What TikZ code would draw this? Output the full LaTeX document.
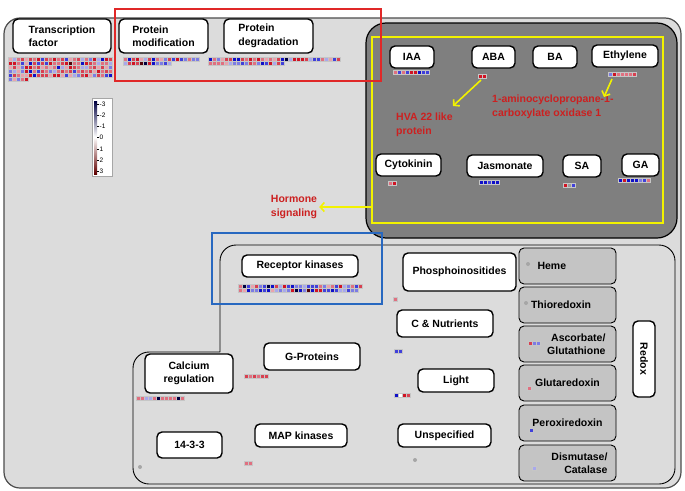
\documentclass[tikz,border=0pt]{standalone}
\usepackage{fontspec}
\setmainfont{Liberation Sans}
\usetikzlibrary{arrows.meta}

\definecolor{hr1}{HTML}{EAA2AC}
\definecolor{hr2}{HTML}{E07080}
\definecolor{hr3}{HTML}{D84050}
\definecolor{hr4}{HTML}{D01424}
\definecolor{hr5}{HTML}{500008}
\definecolor{hr6}{HTML}{600000}
\definecolor{hb1}{HTML}{A8A8EC}
\definecolor{hb2}{HTML}{7C7CE4}
\definecolor{hb3}{HTML}{4040DA}
\definecolor{hb4}{HTML}{1010C8}
\definecolor{hb5}{HTML}{000040}
\definecolor{nodata}{HTML}{9A9A9A}
\definecolor{mapbg}{HTML}{DCDCDC}
\definecolor{panelgray}{HTML}{7F7F7F}
\definecolor{redoxgray}{HTML}{C4C4C4}
\definecolor{hormyel}{HTML}{F2F200}
\definecolor{notered}{HTML}{CC2020}
\definecolor{markred}{HTML}{E02828}
\definecolor{markblue}{HTML}{2868C0}

\newcommand{\lbl}{\bfseries\fontsize{10.5}{13.5}\selectfont}

\tikzset{
  box/.style={draw=black, line width=1.4pt, fill=white, rounded corners=5pt, font=\lbl, inner sep=2pt},
  redoxbox/.style={draw=black, line width=0.9pt, fill=redoxgray, rounded corners=5pt, font=\lbl, minimum width=97, minimum height=36, inner sep=2pt},
  cell/.style={draw=gray!45, line width=0.15pt},
  dot/.style={circle, fill=gray!70, inner sep=0pt, minimum size=4},
  yarrow/.style={draw=hormyel, line width=1.6pt, -{Straight Barb[length=4pt,width=9pt]}},
  note/.style={text=notered, font=\lbl, inner sep=0pt, align=left},
}

% random expression block: x, y, cells, columns, red share of 10, seed
\newcommand{\heatmap}[6]{%
  \pgfmathsetseed{#6}
  \foreach \i in {1,...,#3}{
    \pgfmathtruncatemacro{\hcol}{mod(\i-1,#4)}
    \pgfmathtruncatemacro{\hrow}{div(\i-1,#4)}
    \pgfmathrandominteger{\hq}{1}{10}
    \pgfmathrandominteger{\tn}{1}{20}
    \pgfmathtruncatemacro{\lv}{\tn<5 ? 1 : (\tn<11 ? 2 : (\tn<16 ? 3 : (\tn<20 ? 4 : 5)))}
    \ifnum\hq>#5 \def\hc{hb\lv}\else\def\hc{hr\lv}\fi
    \draw[cell, fill=\hc] (#1+4*\hcol,#2+4*\hrow) rectangle ++(4,4);
  }
}
% one row of given colours: x, y, list
\newcommand{\cells}[3]{%
  \foreach \hc [count=\cn from 0] in {#3}
    \draw[cell, fill=\hc] (#1+4*\cn,#2) rectangle ++(4,4);
}

\begin{document}
\begin{tikzpicture}[x=1pt, y=-1pt]
\useasboundingbox (0,0) rectangle (685,490);
\fill[white] (0,0) rectangle (685,490);

% frames
\draw[draw=black!70, line width=1.2pt, fill=mapbg, rounded corners=16] (4,18) rectangle (681,488);
\draw[line width=0.9pt, fill=mapbg, rounded corners=16] (220,352) -- (220,245) -- (675,245) -- (675,484) -- (133,484) -- (133,352) -- (220,352);
\draw[line width=1.2pt, fill=panelgray, rounded corners=20] (366,23) rectangle (677,238);
\node[draw=hormyel, line width=1.5pt, minimum width=291, minimum height=186, inner sep=0pt] (hormframe) at (517.5,130) {};
\draw[markred, line width=1.5pt] (115,9) rectangle (381,81);
\draw[markblue, line width=1.5pt] (212,233) rectangle (382,304);

% categories
\node[box, minimum width=98, minimum height=34, align=left] (tf) at (62,36) {Transcription\\factor};
\node[box, minimum width=89, minimum height=34, align=left] (pmod) at (163.5,36) {Protein\\modification};
\node[box, minimum width=89, minimum height=34, align=left] (pdeg) at (268.5,36) {Protein\\degradation};

% hormones
\node[box, minimum width=44, minimum height=22] (iaa) at (412,57) {IAA};
\node[box, minimum width=43, minimum height=22] (aba) at (493.5,57) {ABA};
\node[box, minimum width=44, minimum height=22] (ba) at (555,57) {BA};
\node[box, minimum width=66, minimum height=22] (eth) at (625,56) {Ethylene};
\node[box, minimum width=65, minimum height=22] (cyto) at (408.5,165) {Cytokinin};
\node[box, minimum width=76, minimum height=22] (jas) at (505,166) {Jasmonate};
\node[box, minimum width=38, minimum height=22] (sa) at (582,166) {SA};
\node[box, minimum width=37, minimum height=22] (ga) at (640.5,165) {GA};

\node[note] (hva) at (396,113) [anchor=north west] {HVA 22 like\\protein};
\node[note] (aco) at (492,95) [anchor=north west] {1-aminocyclopropane-1-\\carboxylate oxidase 1};
\node[note, align=center, inner sep=2pt] (hs) at (294,207) {Hormone\\signaling};
\coordinate (abacells) at (481,80);
\coordinate (hvatip) at (453,106);
\coordinate (ethcells) at (612,79);
\coordinate (acotip) at (604,97);
\draw[yarrow] (abacells) -- (hvatip);
\draw[yarrow] (ethcells) -- (acotip);
\draw[yarrow] (hormframe.west |- hs.east) -- (hs.east);

% signalling
\node[box, minimum width=116, minimum height=22] (rk) at (300,266) {Receptor kinases};
\node[box, minimum width=113, minimum height=38] (phos) at (459.5,272) {Phosphoinositides};
\node[box, minimum width=96, minimum height=27] (cn) at (445,323.5) {C \& Nutrients};
\node[box, minimum width=96, minimum height=27] (gp) at (312,356.5) {G-Proteins};
\node[box, minimum width=88, minimum height=39, align=center] (ca) at (189,373.5) {Calcium\\regulation};
\node[box, minimum width=76, minimum height=23] (light) at (456,380.5) {Light};
\node[box, minimum width=65, minimum height=26] (f33) at (189.5,445) {14-3-3};
\node[box, minimum width=92, minimum height=23] (mapk) at (301,435.5) {MAP kinases};
\node[box, minimum width=93, minimum height=23] (unsp) at (444.5,435.5) {Unspecified};

% redox
\node[redoxbox, text width=60, align=left] (heme) at (567.5,266) {Heme};
\node[redoxbox, text width=73, align=left] (thio) at (567.5,305) {Thioredoxin};
\node[redoxbox, text width=76, align=right] (asc) at (567.5,344) {Ascorbate/\\Glutathione};
\node[redoxbox] (glut) at (567.5,383) {Glutaredoxin};
\node[redoxbox] (perox) at (567.5,423) {Peroxiredoxin};
\node[redoxbox, text width=80, align=right] (dism) at (567.5,463) {Dismutase/\\Catalase};
\node[box, rotate=-90, minimum width=76, minimum height=22] (redox) at (644,359) {Redox};

% legend
\node[draw=gray!70, fill=white, minimum width=20, minimum height=78, inner sep=0pt] (legend) at (102,137) {};
\shade[top color=hb5, middle color=hb4, bottom color=white] (94,101) rectangle (97,137);
\shade[top color=white, middle color=hr4, bottom color=hr6] (94,137) rectangle (97,174);
\foreach \v [count=\j from 0] in {-3,-2,-1,0,1,2,3}{
  \draw[line width=0.4pt] (97,104+11.2*\j) -- ++(2,0);
  \node[font=\fontsize{6.5}{7}\selectfont, anchor=west, inner sep=0pt] (lg\j) at (99.5,104+11.2*\j) {\v};
}

% expression values
\heatmap{8}{57}{135}{26}{7}{11}
\heatmap{123}{57}{31}{19}{5}{23}
\heatmap{208}{57}{52}{33}{6}{37}
\heatmap{238}{284}{61}{31}{3}{51}
\cells{393}{70}{hr2,hb3,hr2,hb3,hr4,hr4,hb4,hb3,hb3}
\cells{478}{74}{hr4,hr4}
\cells{608}{72}{hb2,hr4,hr2,hr2,hr2,hr2,hr3}
\cells{388}{181}{hr2,hr4}
\cells{479}{180}{hb4,hb4,hb3,hb4,hb4}
\cells{563}{183}{hr4,nodata,hb3}
\cells{618}{178}{hb4,hr4,hb4,hb4,hb4,hb2,hb3,hr2}
\cells{393}{297}{hr2}
\cells{394}{349}{hb3,hb3}
\cells{244}{374}{hr3,hr2,hr3,hr2,hr3,hr3}
\cells{136}{396}{hr2,hr2,hb1,hb1,hr2,hb5,hr2,hr2,hr2,hr2,hb5,hr2}
\cells{394}{393}{hb4,white,hr4,hr3}
\cells{244}{461}{hr2,hr2}
\cells{528}{341}{hr3,hb2,hb2}
\cells{527}{386}{hr2}
\cells{529}{428}{hb3}
\cells{532}{466}{hb1}
\node[dot] (d1) at (140,467) {};
\node[dot] (d2) at (415,460) {};
\node[dot] (d3) at (528,264) {};
\node[dot] (d4) at (526,303) {};
\end{tikzpicture}
\end{document}
